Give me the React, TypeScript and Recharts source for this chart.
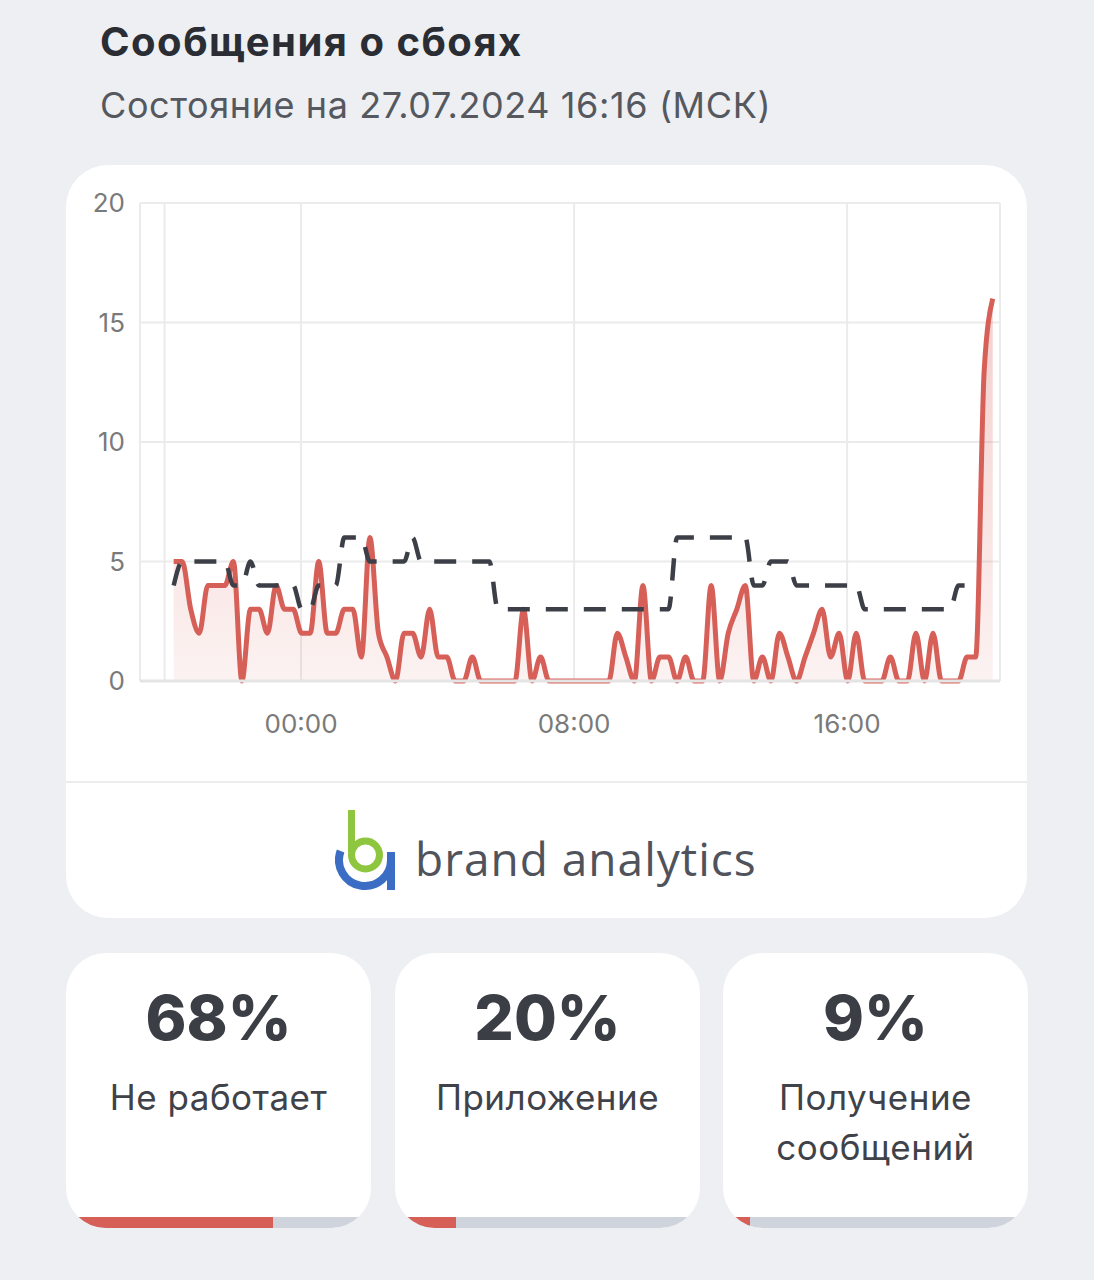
import {
  Area,
  CartesianGrid,
  ComposedChart,
  Line,
  ReferenceLine,
  XAxis,
  YAxis,
} from "recharts";

// 15-minute samples, first one at 20:16 the day before (hours relative to 00:00)
const START_HOUR = -3.733;
const STEP_HOURS = 0.25;

const failures = [
  5, 5, 3, 2, 4, 4, 4, 5, 0, 3,
  3, 2, 4, 3, 3, 2, 2, 5, 2, 2,
  3, 3, 1, 6, 2, 1, 0, 2, 2, 1,
  3, 1, 1, 0, 0, 1, 0, 0, 0, 0,
  0, 3, 0, 1, 0, 0, 0, 0, 0, 0,
  0, 0, 2, 1, 0, 4, 0, 1, 1, 0,
  1, 0, 0, 4, 0, 2, 3, 4, 0, 1,
  0, 2, 1, 0, 1, 2, 3, 1, 2, 0,
  2, 0, 0, 0, 1, 0, 0, 2, 0, 2,
  0, 0, 0, 1, 1, 13, 16,
];

const baseline: (number | null)[] = [
  4, 5, 5, 5, 5, 5, 5, 4, 4, 5,
  4, 4, 4, 4, 4, 3, 3, 4, 4, 4,
  6, 6, 6, 5, 5, 5, 5, 5, 6, 5,
  5, 5, 5, 5, 5, 5, 5, 5, 3, 3,
  3, 3, 3, 3, 3, 3, 3, 3, 3, 3,
  3, 3, 3, 3, 3, 3, 3, 3, 3, 6,
  6, 6, 6, 6, 6, 6, 6, 6, 4, 4,
  5, 5, 5, 4, 4, 4, 4, 4, 4, 4,
  4, 3, 3, 3, 3, 3, 3, 3, 3, 3,
  3, 3, 4, 4, 4, null, null,
];

const xTicks = [0, 8, 16];
const xTickLabels = ["00:00", "08:00", "16:00"];
const yTicks = [0, 5, 10, 15, 20];

const shares = [68, 20, 9];
const shareLabels = [["Не работает"], ["Приложение"], ["Получение", "сообщений"]];

const RED = "#d65f58";
const DARK = "#3c3f47";
const GRID = "#ebebeb";
const FONT = "Inter, 'Noto Sans', sans-serif";

const data = failures.map((v, i) => ({
  t: START_HOUR + i * STEP_HOURS,
  failures: v,
  baseline: baseline[i],
}));

function Logo() {
  return (
    <div
      style={{
        position: "absolute",
        left: 335 - 66,
        top: 808 - 165,
        display: "flex",
        alignItems: "center",
      }}
    >
      <svg width={62} height={84} viewBox="0 0 62 84">
        <path
          d="M 5.6 43 A 26 26 0 1 0 56 52 M 56 44 L 56 82"
          fill="none"
          stroke="#3b6dc5"
          strokeWidth={8}
        />
        <rect x={13} y={2} width={7} height={42} fill="#8fc63f" />
        <circle cx={30.5} cy={47} r={14} fill="none" stroke="#8fc63f" strokeWidth={7} />
      </svg>
      <span
        style={{
          marginLeft: 18,
          fontFamily: "'Open Sans', sans-serif",
          fontSize: 46,
          letterSpacing: 1,
          color: "#50535b",
          lineHeight: 1,
          position: "relative",
          top: 8,
        }}
      >
        brand analytics
      </span>
    </div>
  );
}

function ShareCard({ left, pct, lines }: { left: number; pct: number; lines: string[] }) {
  return (
    <div
      style={{
        position: "absolute",
        left,
        top: 953,
        width: 305,
        height: 275,
        background: "#fff",
        borderRadius: 40,
        overflow: "hidden",
        textAlign: "center",
        fontFamily: FONT,
        color: "#3b3e45",
      }}
    >
      <div style={{ marginTop: 28, fontSize: 62, fontWeight: 800, lineHeight: "74px" }}>
        {pct}%
      </div>
      <div
        style={{
          marginTop: 17,
          fontSize: 35,
          letterSpacing: 0.5,
          lineHeight: "50px",
          color: "#3f4249",
        }}
      >
        {lines.map((l) => (
          <div key={l}>{l}</div>
        ))}
      </div>
      <div
        style={{
          position: "absolute",
          left: 0,
          right: 0,
          bottom: 0,
          height: 11,
          background: "#cfd3dc",
        }}
      >
        <div style={{ width: `${pct}%`, height: "100%", background: RED }} />
      </div>
    </div>
  );
}

export default function App() {
  return (
    <div
      style={{
        position: "absolute",
        left: 0,
        top: 0,
        width: 1094,
        height: 1280,
        background: "#edeff2",
        fontFamily: FONT,
        overflow: "hidden",
      }}
    >
      <div
        style={{
          position: "absolute",
          left: 100,
          top: 18,
          fontSize: 40,
          letterSpacing: 1.5,
          fontWeight: 700,
          color: "#2a2d33",
          lineHeight: "48px",
        }}
      >
        Сообщения о сбоях
      </div>
      <div
        style={{
          position: "absolute",
          left: 100,
          top: 83,
          fontSize: 36,
          letterSpacing: 0.6,
          color: "#55585e",
          lineHeight: "44px",
        }}
      >
        Состояние на 27.07.2024 16:16 (МСК)
      </div>

      <div
        style={{
          position: "absolute",
          left: 66,
          top: 165,
          width: 961,
          height: 753,
          background: "#fff",
          borderRadius: 42,
          overflow: "hidden",
        }}
      >
        <ComposedChart
          width={961}
          height={616}
          data={data}
          margin={{ top: 38, right: 27, left: 0, bottom: 40 }}
        >
          <defs>
            <linearGradient id="redFill" x1="0" y1="0" x2="0" y2="1">
              <stop offset="0%" stopColor={RED} stopOpacity={0.3} />
              <stop offset="100%" stopColor={RED} stopOpacity={0.08} />
            </linearGradient>
          </defs>
          <CartesianGrid stroke={GRID} strokeWidth={2} />
          <XAxis
            type="number"
            dataKey="t"
            domain={[-4.72, 20.48]}
            ticks={xTicks}
            tickFormatter={(v: number) => xTickLabels[xTicks.indexOf(v)] ?? ""}
            allowDataOverflow
            axisLine={{ stroke: "#e4e4e4", strokeWidth: 3 }}
            tickLine={false}
            tickSize={0}
            tickMargin={34}
            height={60}
            tick={{ fill: "#7a7a7a", fontSize: 26, fontFamily: FONT }}
          />
          <YAxis
            domain={[0, 20]}
            ticks={yTicks}
            width={74}
            axisLine={false}
            tickLine={false}
            tickSize={0}
            tickMargin={15}
            tick={{ fill: "#7a7a7a", fontSize: 26, fontFamily: FONT }}
          />
          <ReferenceLine x={-4} stroke={GRID} strokeWidth={2} />
          <Area
            type="monotone"
            dataKey="failures"
            stroke="none"
            fill="url(#redFill)"
            fillOpacity={1}
            isAnimationActive={false}
          />
          <Line
            type="monotone"
            dataKey="failures"
            stroke={RED}
            strokeWidth={5}
            dot={false}
            activeDot={false}
            isAnimationActive={false}
          />
          <Line
            type="monotone"
            dataKey="baseline"
            stroke={DARK}
            strokeWidth={4.5}
            strokeDasharray="22 16"
            dot={false}
            activeDot={false}
            isAnimationActive={false}
          />
        </ComposedChart>
        <div
          style={{
            position: "absolute",
            left: 0,
            right: 0,
            top: 781 - 165,
            height: 2,
            background: "#ececec",
          }}
        />
        <Logo />
      </div>

      {shares.map((p, i) => (
        <ShareCard key={p} left={[66, 395, 723][i]} pct={p} lines={shareLabels[i]} />
      ))}
    </div>
  );
}
